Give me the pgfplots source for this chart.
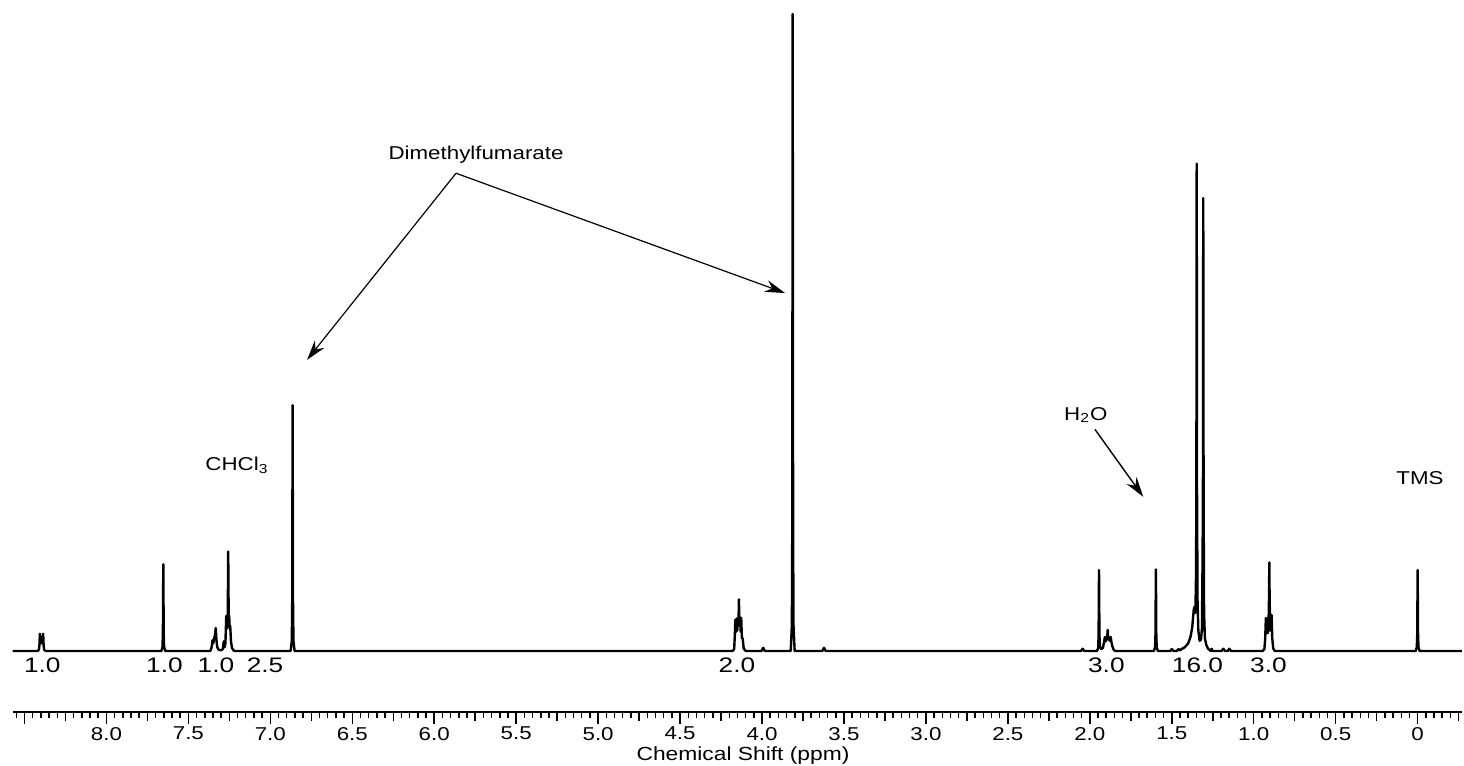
\documentclass[border=0pt]{standalone}
\usepackage{fontspec}
\setmainfont{Liberation Sans}
\usepackage{graphicx}
\usepackage{pgfplots}
\pgfplotsset{compat=1.18}
\usetikzlibrary{arrows.meta}
\newcommand{\sx}[1]{\scalebox{1.2}[1]{#1}}
\newcommand{\si}[1]{\scalebox{1.25}[1]{#1}}
\newcommand{\fs}[1]{\fontsize{#1}{#1}\selectfont}

\begin{document}
\begin{tikzpicture}
\begin{axis}[
  at={(0,0)}, anchor=south west,
  scale only axis, width=724.6pt, height=356pt,
  xmin=-0.27, xmax=8.572, x dir=reverse,
  ymin=-9.58, ymax=102.2,
  axis x line=bottom, axis y line=none,
  x axis line style={-, line width=1pt},
  xtick={0,0.5,...,8.5},
  xticklabels={\sx{0},\sx{0.5},\sx{1.0},\sx{1.5},\sx{2.0},\sx{2.5},\sx{3.0},\sx{3.5},\sx{4.0},\sx{4.5},\sx{5.0},\sx{5.5},\sx{6.0},\sx{6.5},\sx{7.0},\sx{7.5},\sx{8.0},{}},
  minor xtick={-0.25,-0.20,...,8.56},
  extra x ticks={-0.25,0.25,0.75,1.25,1.75,2.25,2.75,3.25,3.75,4.25,4.75,5.25,5.75,6.25,6.75,7.25,7.75,8.25},
  extra x tick labels={},
  extra x tick style={major tick length=4.7pt},
  tick align=outside, major tick length=5.8pt, minor tick length=3pt,
  tick style={line width=0.75pt, black},
  xticklabel style={font=\fs{9.3}, yshift=1.8pt},
  clip=false,
]
% 1H NMR spectrum (intensity relative to the 3.81 ppm singlet = 100)
\addplot[black, line width=1.2pt, line join=round] coordinates {
  (8.572,0)
  (8.420,0) (8.412,0.2) (8.409,0.8) (8.406,2.7) (8.402,1.5) (8.396,1.2)
  (8.390,1.6) (8.386,2.7) (8.383,0.8) (8.380,0.2) (8.372,0)
  (7.665,0) (7.658,0.6) (7.6555,2.7) (7.653,13.6) (7.6505,2.7) (7.648,0.6) (7.641,0)
  (7.366,0) (7.358,0.6) (7.353,1.7) (7.348,1.2) (7.343,2.0) (7.338,2.5)
  (7.333,3.6) (7.329,1.8) (7.324,0.6) (7.316,0.2) (7.300,0.1) (7.290,0.3)
  (7.284,1.5) (7.279,0.6) (7.274,1.2) (7.269,5.5) (7.266,3.5) (7.263,5.2)
  (7.260,4.5) (7.257,15.6) (7.254,5.0) (7.251,5.5) (7.248,3.5) (7.245,4.0)
  (7.240,1.5) (7.234,0.5) (7.226,0.1) (7.215,0)
  (6.876,0) (6.869,1.6) (6.8665,7.7) (6.864,38.6) (6.8615,7.7) (6.859,1.6) (6.852,0)
  (4.180,0) (4.170,0.3) (4.166,2.5) (4.163,4.9) (4.159,3.0) (4.155,5.1)
  (4.151,3.2) (4.148,5.0) (4.144,4.0) (4.141,8.1) (4.138,4.0) (4.134,5.3)
  (4.130,3.0) (4.127,5.2) (4.123,2.0) (4.118,2.0) (4.112,0.4) (4.100,0)
  (4.003,0) (3.993,0.5) (3.983,0)
  (3.825,0) (3.818,4) (3.8155,20) (3.813,100) (3.8105,20) (3.808,4) (3.801,0)
  (3.632,0) (3.622,0.5) (3.612,0)
  (2.054,0) (2.044,0.35) (2.034,0)
  (1.956,0) (1.949,0.5) (1.9465,2.5) (1.944,12.7) (1.9415,2.5) (1.938,0.6)
  (1.930,0.3) (1.920,0.5) (1.915,1.2) (1.908,2.2) (1.904,1.5) (1.900,2.0)
  (1.895,1.8) (1.891,3.3) (1.887,1.8) (1.882,2.1) (1.878,1.6) (1.873,2.2)
  (1.867,1.2) (1.862,0.7) (1.855,0.2) (1.845,0)
  (1.609,0) (1.602,0.6) (1.5995,2.6) (1.597,12.8) (1.5945,2.6) (1.592,0.6) (1.585,0)
  (1.510,0) (1.500,0.3) (1.490,0) (1.470,0) (1.460,0.3) (1.450,0.1)
  (1.440,0.3) (1.420,0.6) (1.400,1.2) (1.385,2.3) (1.375,3.8) (1.366,6.5)
  (1.362,6.9) (1.356,6.0) (1.352,12) (1.350,25) (1.348,76.5) (1.346,25)
  (1.343,8) (1.338,3.2) (1.330,1.6) (1.322,1.8) (1.316,3.5) (1.312,15)
  (1.310,25) (1.308,71.1) (1.306,25) (1.303,6) (1.298,2.0) (1.290,1.0)
  (1.280,0.4) (1.268,0.1) (1.262,0) (1.257,0.35) (1.252,0)
  (1.196,0) (1.186,0.35) (1.176,0) (1.159,0) (1.149,0.35) (1.139,0)
  (0.945,0) (0.935,0.3) (0.930,2.0) (0.926,5.2) (0.922,3.0) (0.915,2.8)
  (0.910,4.0) (0.907,8) (0.905,13.9) (0.903,8) (0.899,3.2) (0.895,3.5)
  (0.891,5.65) (0.887,2.0) (0.881,0.4) (0.872,0)
  (0.012,0) (0.005,0.6) (0.0025,2.6) (0,12.7) (-0.0025,2.6) (-0.005,0.6) (-0.012,0)
  (-0.27,0)
};
% integrals
\node[font=\fs{10.5}] at (axis cs:8.391,-2.2) {\si{1.0}};
\node[font=\fs{10.5}] at (axis cs:7.646,-2.2) {\si{1.0}};
\node[font=\fs{10.5}] at (axis cs:7.332,-2.2) {\si{1.0}};
\node[font=\fs{10.5}] at (axis cs:7.032,-2.2) {\si{2.5}};
\node[font=\fs{10.5}] at (axis cs:4.153,-2.2) {\si{2.0}};
\node[font=\fs{10.5}] at (axis cs:1.899,-2.2) {\si{3.0}};
\node[font=\fs{10.5}] at (axis cs:1.343,-2.2) {\si{16.0}};
\node[font=\fs{10.5}] at (axis cs:0.910,-2.2) {\si{3.0}};
% labels
\node[font=\fs{9.3}] at (axis cs:5.745,77.9) {\sx{Dimethylfumarate}};
\draw[line width=0.6pt, -{Stealth[length=10pt,width=6pt]}] (axis cs:5.867,75.0) -- (axis cs:6.776,45.7);
\draw[line width=0.6pt, -{Stealth[length=10pt,width=6pt]}] (axis cs:5.867,75.0) -- (axis cs:3.860,56.2);
\node[font=\fs{9.3}] at (axis cs:7.203,29.2) {\sx{CHCl\textsubscript{3}}};
\node[font=\fs{9.3}] at (axis cs:2.024,37.05) {\sx{H\textsubscript{2}O}};
\draw[line width=0.7pt, -{Stealth[length=10pt,width=6pt]}] (axis cs:1.969,34.8) -- (axis cs:1.674,24.2);
\node[font=\fs{9.3}] at (axis cs:-0.014,27.2) {\sx{TMS}};
% axis title
\node[font=\fs{9.5}, yshift=-21.6pt] at (axis cs:4.116,-9.58) {\sx{Chemical Shift (ppm)}};
\end{axis}
\pgfresetboundingbox
\path (-6.35pt,-27pt) rectangle (725.65pt,356pt);
\end{tikzpicture}
\end{document}
